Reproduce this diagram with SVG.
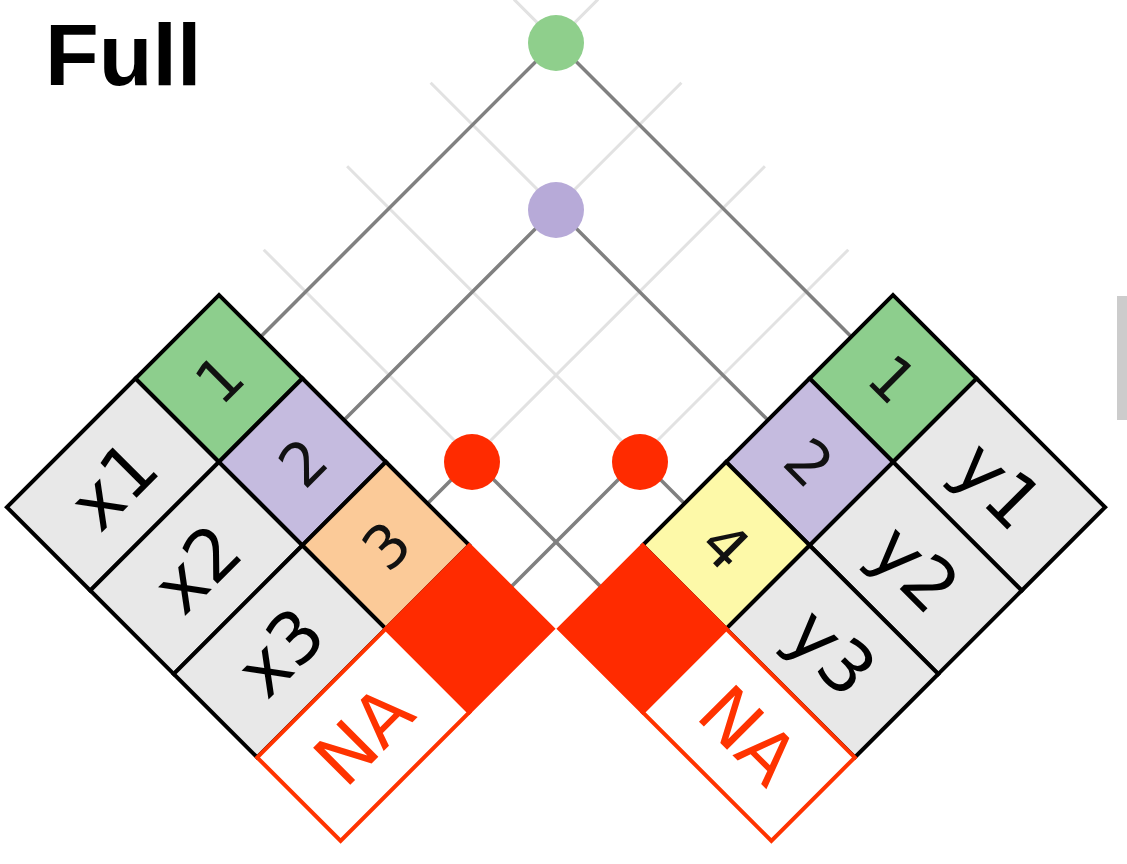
<svg xmlns="http://www.w3.org/2000/svg" width="1127" height="864" viewBox="0 0 1127 864">
<style>
.cell{stroke:#000;stroke-width:4;stroke-linejoin:miter}
.na{fill:#fff;stroke:#ff3300;stroke-width:4}
.nakey{fill:#ff2b00;stroke:#ff2b00;stroke-width:4}
.gr{fill:#e8e8e8}
.c1{fill:#8dce8d}
.c2{fill:#c5bbdf}
.c3{fill:#fbca98}
.c4{fill:#fdf9a8}
.val{font-family:"DejaVu Sans",Lato,sans-serif;font-size:72px;text-anchor:middle;fill:#000}
.key{font-family:"DejaVu Sans",Lato,sans-serif;font-size:60px;text-anchor:middle;fill:#111}
.natext{fill:#ff3300}
.faint{stroke:#e2e2e2;stroke-width:3;fill:none}
.link{stroke:#808080;stroke-width:3.5;fill:none}
.title{font-family:"Liberation Sans",Arial,sans-serif;font-weight:bold;font-size:88px;fill:#000}
</style>

<g id="title"><text class="title" x="45" y="85">Full</text></g>

<g id="connectors">
  <g id="grid">
    <line class="faint" x1="260.7" y1="336.7" x2="598" y2="-0.6"/>
    <line class="faint" x1="344.1" y1="420.1" x2="681.4" y2="82.8"/>
    <line class="faint" x1="427.6" y1="503.6" x2="764.9" y2="166.3"/>
    <line class="faint" x1="511" y1="587" x2="848.3" y2="249.7"/>
    <line class="faint" x1="851.3" y1="336.7" x2="514" y2="-0.6"/>
    <line class="faint" x1="767.9" y1="420.1" x2="430.6" y2="82.8"/>
    <line class="faint" x1="684.4" y1="503.6" x2="347.1" y2="166.3"/>
    <line class="faint" x1="601" y1="587" x2="263.7" y2="249.7"/>
  </g>
  <g id="links">
    <line class="link" x1="260.7" y1="336.7" x2="556" y2="41.4"/>
    <line class="link" x1="851.3" y1="336.7" x2="556" y2="41.4"/>
    <line class="link" x1="344.1" y1="420.1" x2="556" y2="208.2"/>
    <line class="link" x1="767.9" y1="420.1" x2="556" y2="208.2"/>
    <line class="link" x1="427.6" y1="503.6" x2="472.6" y2="458.6"/>
    <line class="link" x1="601" y1="587" x2="472.6" y2="458.6"/>
    <line class="link" x1="684.4" y1="503.6" x2="639.4" y2="458.6"/>
    <line class="link" x1="511" y1="587" x2="639.4" y2="458.6"/>
  </g>
</g>

<g id="dots">
  <g id="dot-1"><circle cx="556" cy="43" r="28" fill="#8fcf8c"/></g>
  <g id="dot-2"><circle cx="556" cy="210" r="28" fill="#b7aad8"/></g>
  <g id="dot-3-na"><circle cx="472" cy="462" r="28" fill="#ff2b00"/></g>
  <g id="dot-na-4"><circle cx="640" cy="462" r="28" fill="#ff2b00"/></g>
</g>

<g id="left-table" transform="translate(219,295) rotate(-45)">
  <g id="x1"><rect class="cell gr" x="-300" y="0" width="182" height="118"/><text class="val" x="-209" y="85">x1</text></g>
  <g id="x2"><rect class="cell gr" x="-300" y="118" width="182" height="118"/><text class="val" x="-209" y="203">x2</text></g>
  <g id="x3"><rect class="cell gr" x="-300" y="236" width="182" height="118"/><text class="val" x="-209" y="321">x3</text></g>
  <g id="lk1"><rect class="cell c1" x="-118" y="0" width="118" height="118"/><text class="key" x="-59" y="81">1</text></g>
  <g id="lk2"><rect class="cell c2" x="-118" y="118" width="118" height="118"/><text class="key" x="-59" y="199">2</text></g>
  <g id="lk3"><rect class="cell c3" x="-118" y="236" width="118" height="118"/><text class="key" x="-59" y="317">3</text></g>
  <g id="lna"><rect class="na" x="-300" y="354" width="182" height="118"/><text class="val natext" x="-209" y="439">NA</text></g>
  <g id="lk-na"><rect class="nakey" x="-118" y="354" width="118" height="118"/></g>
</g>

<g id="right-table" transform="translate(893,295) rotate(45)">
  <g id="y1"><rect class="cell gr" x="118" y="0" width="182" height="118"/><text class="val" x="209" y="85">y1</text></g>
  <g id="y2"><rect class="cell gr" x="118" y="118" width="182" height="118"/><text class="val" x="209" y="203">y2</text></g>
  <g id="y3"><rect class="cell gr" x="118" y="236" width="182" height="118"/><text class="val" x="209" y="321">y3</text></g>
  <g id="rk1"><rect class="cell c1" x="0" y="0" width="118" height="118"/><text class="key" x="59" y="81">1</text></g>
  <g id="rk2"><rect class="cell c2" x="0" y="118" width="118" height="118"/><text class="key" x="59" y="199">2</text></g>
  <g id="rk4"><rect class="cell c4" x="0" y="236" width="118" height="118"/><text class="key" x="59" y="317">4</text></g>
  <g id="rna"><rect class="na" x="118" y="354" width="182" height="118"/><text class="val natext" x="209" y="439">NA</text></g>
  <g id="rk-na"><rect class="nakey" x="0" y="354" width="118" height="118"/></g>
</g>

<g id="edge-bar"><rect x="1117" y="296" width="10" height="124" fill="#cccccc"/></g>
</svg>
